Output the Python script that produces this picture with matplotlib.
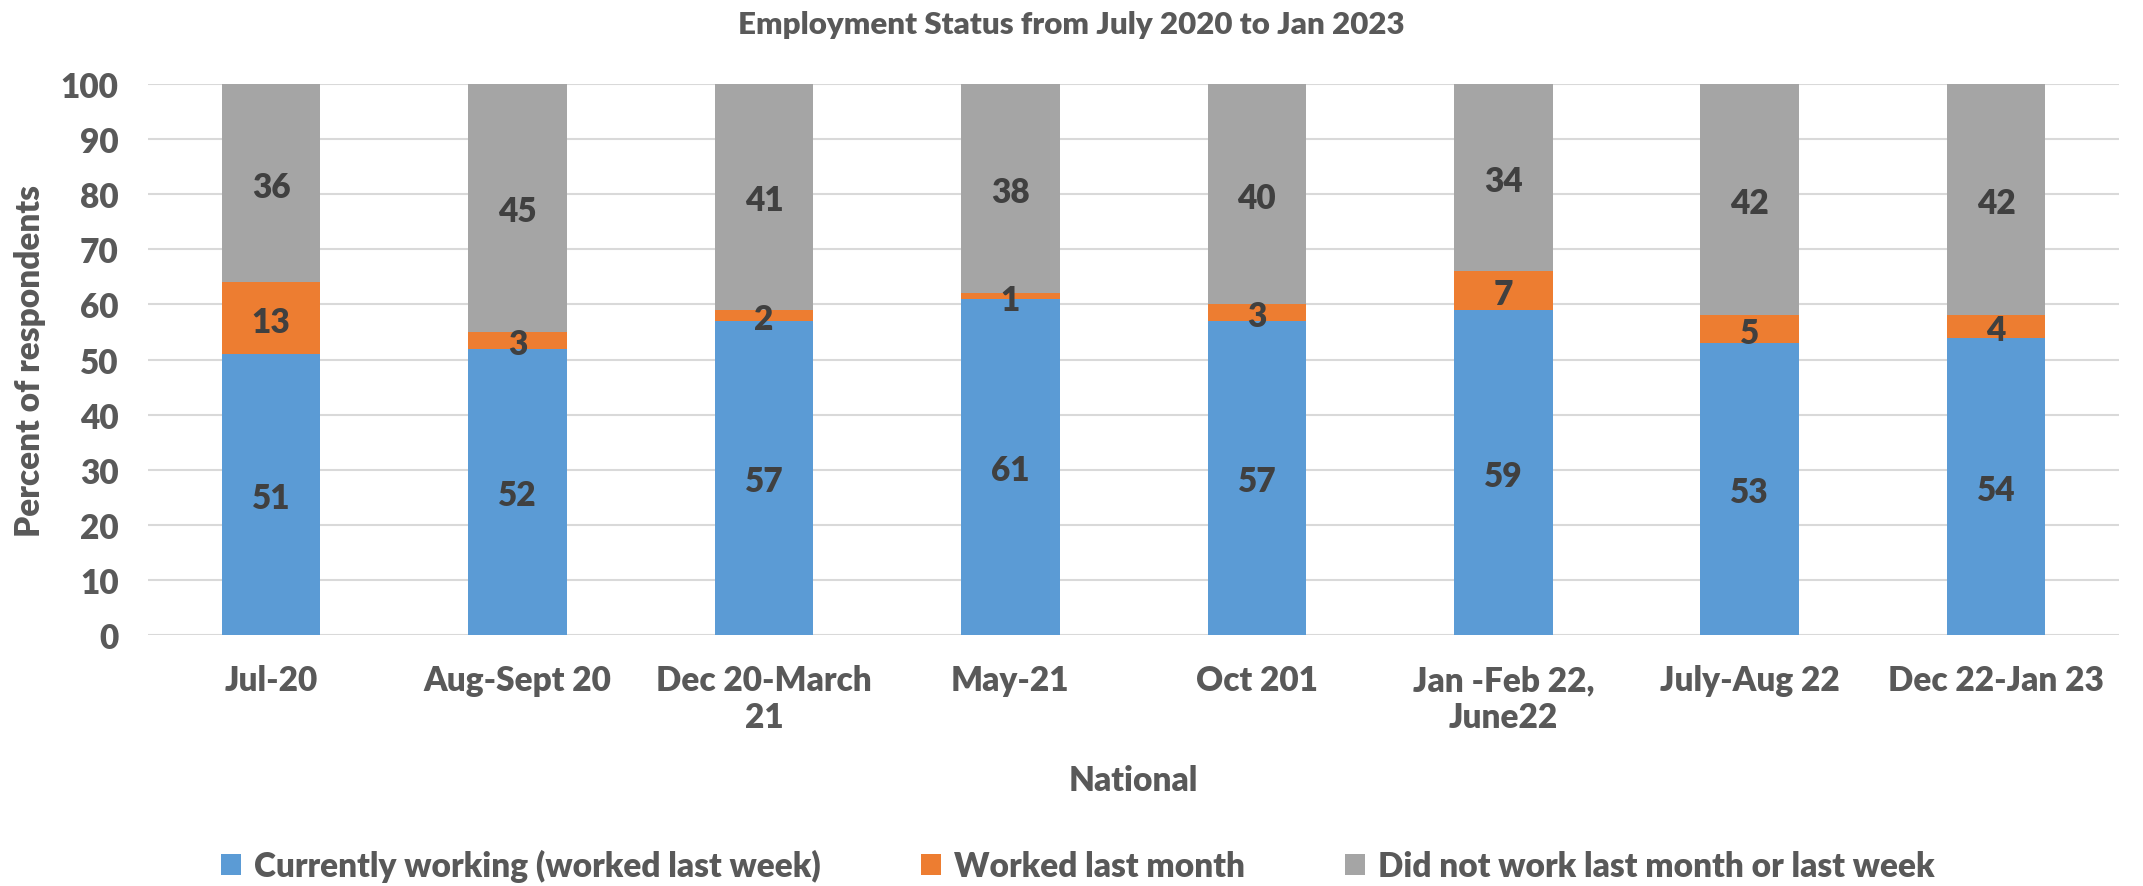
import numpy as np
import matplotlib.pyplot as plt
from matplotlib.patches import Patch

periods = ['Jul-20', 'Aug-Sept 20', 'Dec 20-March\n21', 'May-21', 'Oct 201',
           'Jan -Feb 22,\nJune22', 'July-Aug 22', 'Dec 22-Jan 23']
working = [51, 52, 57, 61, 57, 59, 53, 54]
last_month = [13, 3, 2, 1, 3, 7, 5, 4]
not_working = [36, 45, 41, 38, 40, 34, 42, 42]

series_names = ['Currently working (worked last week)', 'Worked last month',
                'Did not work last month or last week']
colors = ['#5b9bd5', '#ed7d31', '#a5a5a5']

plt.rcParams['font.family'] = ['Lato', 'DejaVu Sans']
text_gray = '#595959'
label_gray = '#404040'
wt = 'heavy'

fig = plt.figure(figsize=(21.43, 8.87), dpi=100)
ax = fig.add_axes([0.069, 0.283, 0.920, 0.621])

x = np.arange(len(periods))
bottom = np.zeros(len(periods))
for vals, col in zip([working, last_month, not_working], colors):
    vals = np.array(vals, dtype=float)
    ax.bar(x, vals, 0.4, bottom=bottom, color=col, zorder=2)
    for xi, b, v in zip(x, bottom, vals):
        ax.text(xi, b + v / 2 - 0.6, f'{v:.0f}', ha='center', va='center',
                fontsize=24, fontweight=wt, color=label_gray, zorder=3)
    bottom += vals

ax.set_xlim(-0.5, len(periods) - 0.5)
ax.set_ylim(0, 100)
ax.set_yticks(range(0, 101, 10))
ax.yaxis.grid(True, color='#d9d9d9', linewidth=1.5, zorder=0)
ax.set_axisbelow(True)
for s in ax.spines.values():
    s.set_visible(False)
ax.tick_params(length=0, labelsize=24, labelcolor=text_gray)
ax.tick_params(axis='y', pad=21)
ax.tick_params(axis='x', pad=21)
ax.set_xticks(x)
ax.set_xticklabels(periods, fontweight=wt, linespacing=1.2)
for t in ax.get_yticklabels():
    t.set_fontweight(wt)

ax.set_ylabel('Percent of respondents', fontsize=24, fontweight=wt,
              color=text_gray, labelpad=11)
ax.set_xlabel('National', fontsize=24, fontweight=wt, color=text_gray,
              labelpad=22)
fig.text(0.5, 0.972, 'Employment Status from July 2020 to Jan 2023',
         ha='center', va='center', fontsize=22.5, fontweight=wt,
         color=text_gray)

handles = [Patch(facecolor=c, edgecolor='none') for c in colors]
leg = fig.legend(handles, series_names, loc='center', bbox_to_anchor=(0.503, 0.023),
                 ncol=3, frameon=False, fontsize=24, labelcolor=text_gray,
                 handlelength=0.6, handleheight=0.6, handletextpad=0.4,
                 columnspacing=3.0)
for t in leg.get_texts():
    t.set_fontweight(wt)

fig.savefig('out.png', dpi=100)
